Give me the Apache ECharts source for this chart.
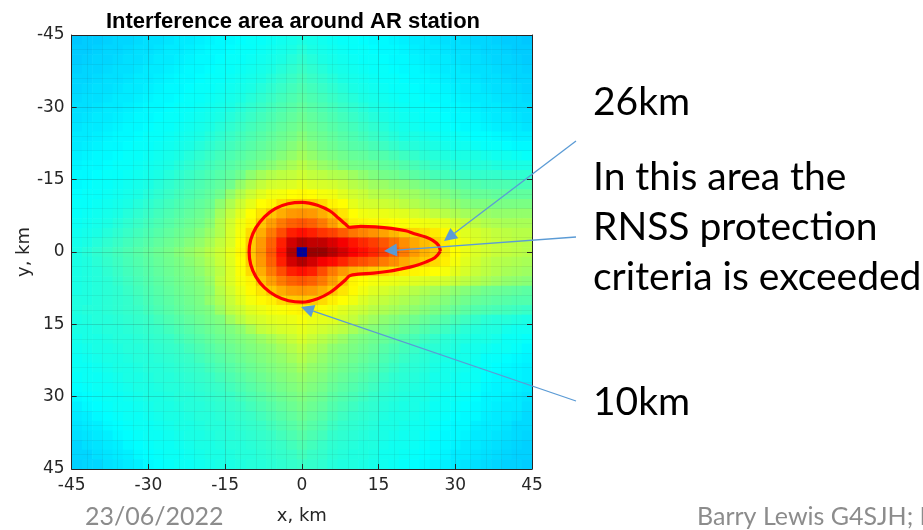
<!DOCTYPE html>
<html>
<head>
<meta charset="utf-8">
<script src="https://cdn.jsdelivr.net/npm/echarts@6/dist/echarts.min.js"></script>
<style>
  html, body { margin: 0; padding: 0; background: #ffffff; }
  #main { width: 923px; height: 530px; }
</style>
</head>
<body>
<div id="main"></div>
<script>
// ---------------- data ----------------
const chartTitle = 'Interference area around AR station';
const xTicks = [-45, -30, -15, 0, 15, 30, 45];
const yTicks = [-45, -30, -15, 0, 15, 30, 45];

// cell centres (km), 2 km cells
const xs = [-44,-42,-40,-38,-36,-34,-32,-30,-28,-26,-24,-22,-20,-18,-16,-14,-12,-10,-8,-6,-4,-2,0,2,4,6,8,10,12,14,16,18,20,22,24,26,28,30,32,34,36,38,40,42,44];
const ys = [-44,-42,-40,-38,-36,-34,-32,-30,-28,-26,-24,-22,-20,-18,-16,-14,-12,-10,-8,-6,-4,-2,0,2,4,6,8,10,12,14,16,18,20,22,24,26,28,30,32,34,36,38,40,42,44];

// relative interference level (0..100 on the colour scale), one row per y (top to bottom)
const valueRows = [
/* -44 */ [32,32.5,32.5,33,33.5,33.5,34,34.5,34.5,35,35.5,35.5,36,36.5,37,37,37.5,38,38,38.5,39,39.5, 40, 39.5,39,38.5,38,38,37.5,37,37,36.5,36,35.5,35.5,35,34.5,34.5,34,33.5,33.5,33,32.5,32.5,32],
/* -42 */ [32.5,32.5,33,33.5,33.5,34,34.5,34.5,35,35.5,35.5,36,36.5,37,37,37.5,38,38,38.5,39,39.5,40, 41, 40,39.5,39,38.5,38,38,37.5,37,37,36.5,36,35.5,35.5,35,34.5,34.5,34,33.5,33.5,33,32.5,32.5],
/* -40 */ [32.5,33,33.5,33.5,34,34.5,34.5,35,35.5,35.5,36,36.5,37,37,37.5,38,38,38.5,39,39.5,40,41, 42, 41,40,39.5,39,38.5,38,38,37.5,37,37,36.5,36,35.5,35.5,35,34.5,34.5,34,33.5,33.5,33,32.5],
/* -38 */ [33,33.5,33.5,34,34.5,34.5,35,35.5,35.5,36,36.5,37,37,37.5,38,38,38.5,39,39.5,40,41,42, 43, 42,41,40,39.5,39,38.5,38,38,37.5,37,37,36.5,36,35.5,35.5,35,34.5,34.5,34,33.5,33.5,33],
/* -36 */ [33.5,33.5,34,34.5,34.5,35,35.5,35.5,36,36.5,37,37,37.5,38,38,38.5,39,39.5,40,41,42,43, 44, 43,42,41,40,39.5,39,38.5,38,38,37.5,37,37,36.5,36,35.5,35.5,35,34.5,34.5,34,33.5,33.5],
/* -34 */ [33.5,34,34.5,34.5,35,35.5,35.5,36,36.5,37,37,37.5,38,38,38.5,39,39.5,40,41,42,43,44, 45, 44,43,42,41,40,39.5,39,38.5,38,38,37.5,37,37,36.5,36,35.5,35.5,35,34.5,34.5,34,33.5],
/* -32 */ [34,34.5,34.5,35,35.5,35.5,36,36.5,37,37,37.5,38,38,38.5,39,39.5,40,41,42,43,44,45, 46, 45,44,43,42,41,40,39.5,39,38.5,38,38,37.5,37,37,36.5,36,35.5,35.5,35,34.5,34.5,34],
/* -30 */ [34.5,34.5,35,35.5,35.5,36,36.5,37,37,37.5,38,38,38.5,39,39.5,40,41,42,43,44,45,46, 47, 46,45,44,43,42,41,40,39.5,39,38.5,38,38,37.5,37,37,36.5,36,35.5,35.5,35,34.5,34.5],
/* -28 */ [34.5,35,35.5,35.5,36,36.5,37,37,37.5,38,38,38.5,39,39.5,40,41,42,43,44,45,46,47, 48, 47,46,45,44,43,42,41,40,39.5,39,38.5,38,38,37.5,37,37,36.5,36,35.5,35.5,35,34.5],
/* -26 */ [35,35.5,35.5,36,36.5,37,37,37.5,38,38,38.5,39,39.5,40,41,42,43,44,45,46,47,48, 49, 48,47,46,45,44,43,42,41,40,39.5,39,38.5,38,38,37.5,37,37,36.5,36,35.5,35.5,35],
/* -24 */ [35.5,35.5,36,36.5,37,37,37.5,38,38,38.5,39,39.5,40,41,42,43,44,45,46,47,48,49, 50.5, 49,48,47,46,45,44,43,42,41,40,40,39.5,39,38.5,38.5,38,37.5,37.5,37,36.5,36,36],
/* -22 */ [35.5,36,36.5,37,37,37.5,38,38,38.5,39,39.5,40,41,42,43,44,45,46,47,48,49,50.5, 52, 50.5,49,48,47,46,45.5,44.5,43.5,42.5,41.5,41,40.5,40,39.5,39,39,38.5,38,38,37.5,37,37],
/* -20 */ [36,36.5,37,37,37.5,38,38,38.5,39,39.5,40,41,42,43,44,45,46,47,48,49,50.5,52, 53.5, 52,50.5,49.5,48.5,47.5,47,46,45.5,44.5,43.5,42.5,41.5,41,40.5,40,40,40,39.5,39,39,38.5,38],
/* -18 */ [36.5,37,37,37.5,38,38,38.5,39,39.5,40,41,42,43,44,45,46,47,48,49.5,51,52.5,54, 55.5, 54,52.5,51.5,50,49,48.5,48,47,46.5,45.5,44.5,43.5,42.5,42,41.5,41,41,41,40.5,40,40,40],
/* -16 */ [37,37,37.5,38,38,38.5,39,39.5,40,41,42,43,44,45,46,47,48.5,51.5,53.5,55,56,56.5, 57.5, 56.5,56,55,54.5,53,51.5,50,49,48.5,47.5,46.5,45.5,44.5,44,43.5,43,42.5,42.5,42.5,42,42,42],
/* -14 */ [37,37.5,38,38,38.5,39,39.5,40,41,42,43,44,45,46,47,48.5,52,54.5,56.5,58,58.5,59, 60, 59,58.5,58,57,55.5,54.5,53,52.5,51.5,51,50,49,48,47.5,46.5,46,45.5,45,45,45,44.5,44.5],
/* -12 */ [37.5,38,38,38.5,39,39.5,40,41,42,43,44,45,46,47,48.5,52,55,57.5,59.5,61,61.5,62.5, 63, 62.5,61.5,61,59.5,58,57,55.5,55,54.5,53.5,53,52,51,50,49,48,47.5,47.5,47,47,47,47],
/* -10 */ [38,38,38.5,39,39.5,40,41,42,43,44,45,46,47,48,51.5,54.5,57.5,60,62.5,63.5,66,67.5, 68, 67.5,66,63.5,62.5,60,58.5,58,57.5,57,56,55,54,53,52.5,51.5,50.5,50,50,49.5,49.5,49.5,49.5],
/*  -8 */ [38,38.5,39,39.5,40,41,42,43,44,45,46,47,48,49.5,53.5,56.5,59.5,62.5,65,68,70.5,72.5, 73, 72.5,70.5,68,65,62.5,61,60.5,60.5,60,59.5,58.5,57.5,56.5,55.5,54.5,53.5,53,52.5,52,52,52,52],
/*  -6 */ [38.5,39,39.5,40,41,42,43,44,45,46,47,48,49,51,55,58,61,63.5,68,72,75.5,78, 79, 78,75.5,72,68,64,63.5,63,63,62.5,62,61.5,61,60.5,60,58,57,56,55,54.5,54,54,54],
/*  -4 */ [39,39.5,40,41,42,43,44,45,46,47,48,49,50.5,52.5,55,58.5,61.5,66,70.5,75.5,80,84.5, 86, 84.5,82.5,81,78.5,76,74.5,73,71.5,69.5,67.5,66.5,65.5,64.5,63,61,59.5,58.5,57.5,56.5,56,55.5,55.5],
/*  -2 */ [39.5,40,41,42,43,44,45,46,47,48,49,50.5,52,54,56.5,59,62.5,67.5,72.5,78,84.5,92, 95, 93.5,93.5,91,88.5,85.5,83.5,81.5,79,76.5,73.5,71,69,67,64.5,62,60.5,59,58,57,56.5,56,55.5],
/*   0 */ [40,41,42,43,44,45,46,47,48,49,50.5,52,53.5,55.5,57.5,60,63,68,73,79,86,95, 3, 97.5,97.5,94.5,91.5,88,86,84,81.5,78.5,75.5,72.5,70,68,65,62.5,60.5,59,58,57,56.5,56,55.5],
/*   2 */ [40,40.5,41.5,42.5,43.5,44.5,45.5,46.5,47.5,48.5,49.5,51,52.5,54.5,57,59.5,62.5,67.5,72.5,78,84.5,92, 95, 92,88.5,86.5,84,81,79.5,78,75.5,73.5,71,69,67.5,66,64,61.5,59.5,58,56.5,55.5,55,54.5,54],
/*   4 */ [40,40.5,41,42,43,44,45,46,47,48,49,50,51.5,53.5,56,59,62,66,70.5,75.5,80,84.5, 86, 84.5,80,75.5,72.5,70,69,67.5,66.5,65,64,63.5,63,62.5,61.5,60,58.5,57,56,55,54,53.5,53],
/*   6 */ [40,40.5,41,41.5,42.5,43.5,44.5,45.5,46.5,47.5,48.5,49.5,50.5,52.5,56.5,59,61.5,63.5,68,72,75.5,78, 79, 78,75.5,72,68,63.5,62.5,61.5,61,60.5,60,59.5,59,58.5,58,57,56,55,54,53,52,51.5,51],
/*   8 */ [40,40.5,41,41.5,42,43,44,45,46,47,48,49,50,51.5,55.5,58,60.5,63,65,68,70.5,72.5, 73, 72.5,70.5,68,65,63,61,59.5,58.5,57.5,56.5,55.5,54.5,53.5,52.5,51.5,50.5,49.5,48.5,48,47.5,47,46.5],
/*  10 */ [40.5,40.5,41,41.5,42,42.5,43.5,44.5,45.5,46.5,47.5,48.5,49.5,52,54.5,57,59.5,61.5,63,64,66,67.5, 68, 67.5,66,64,62.5,61,59,57.5,56.5,55.5,54.5,53.5,52.5,51.5,50.5,49.5,48.5,47.5,47,46.5,46,45.5,45.5],
/*  12 */ [40.5,41,41,41.5,42,42.5,43,44,45,46,47,48,49,50,53,56,57.5,59.5,60.5,61.5,62,63, 63.5, 63,62,61,59.5,58,57,55.5,54.5,53.5,52.5,51.5,50.5,49.5,48.5,47.5,46.5,45.5,45,44.5,44,43.5,43],
/*  14 */ [40,40.5,41,41,41.5,42,42.5,43,44,45,46,47,48,49,50,53,55.5,57.5,58.5,59.5,60,60.5, 61.5, 60.5,60,59.5,58,56.5,54.5,53,51.5,50.5,49.5,48.5,47.5,46.5,45.5,44.5,43.5,42.5,41.5,41,41,40.5,40],
/*  16 */ [40,40,40.5,41,41,41.5,42,42.5,43,44,45,46,47,48,49,50,51.5,54,56.5,57.5,58.5,59, 60, 59,58,57,56,54,52,50.5,49.5,48.5,47.5,46.5,45.5,44.5,43.5,42.5,41.5,41,40.5,40.5,39.5,39,39],
/*  18 */ [39.5,40,40,40.5,41,41,41.5,42,42.5,43,44,45,46,47,48,49,50,51,52.5,54,55.5,57, 58.5, 57,55.5,54,52.5,50.5,49.5,48.5,47.5,46.5,45.5,44.5,43.5,42.5,41.5,41,40.5,40,40,39.5,38.5,38.5,38],
/*  20 */ [39,39.5,40,40,40.5,41,41,41.5,42,42.5,43,44,45,46,47,48,49,50,51,52,53.5,55, 56.5, 55,53.5,51.5,50.5,49.5,48.5,47.5,46,45,44,43,42,41.5,41,40.5,39.5,39.5,39,38.5,38.5,38,37],
/*  22 */ [38.5,39,39.5,40,40,40.5,41,41,41.5,42,42.5,43,44,45,46,47,48,49,50,51,52,53.5, 55, 53.5,52,50.5,49.5,48.5,47.5,46.5,45,44,43,42,41.5,40.5,40,39.5,39.5,39,38,38,37.5,37,36.5],
/*  24 */ [38.5,38.5,39,39.5,40,40,40.5,41,41,41.5,42,42.5,43,44,45,46,47,48,49,50,51,52, 53.5, 52,51,49.5,48.5,47.5,46.5,45.5,44,43,42,41.5,41,40,39.5,39.5,39,38.5,38,37.5,37,36.5,36],
/*  26 */ [38,38.5,38.5,39,39.5,40,40,40.5,41,41,41.5,42,42.5,43,44,45,46,47,48,49,50,51, 52, 51,50,48.5,47.5,46.5,45.5,44.5,43,42,41.5,41,40.5,39.5,39.5,39,38.5,38.5,37.5,37,36.5,36.5,36],
/*  28 */ [37.5,38,38.5,38.5,39,39.5,40,40,40.5,41,41,41.5,42,42.5,43,44,45,46,47,48,49,50, 51, 50,49,47.5,46.5,45.5,44.5,43.5,42,41.5,41,40.5,40,39.5,39,38.5,38.5,38,37,36.5,36.5,36,35.5],
/*  30 */ [37,37.5,38,38.5,38.5,39,39.5,40,40,40.5,41,41,41.5,42,42.5,43,44,45,46,47,48,49, 50, 49,48,46.5,45.5,44.5,43.5,42.5,41.5,41,40.5,40,40,39,38.5,38.5,38,37.5,36.5,36.5,36,35.5,35],
/*  32 */ [36,37,37.5,38,38.5,38.5,39,39.5,40,40,40.5,41,41,41.5,42,42.5,43,44,45,46,47,48, 49, 48,47,45.5,44.5,43.5,42.5,42,41,40.5,40,40,39.5,38.5,38.5,38,37.5,37,36.5,36,35.5,35.5,34.5],
/*  34 */ [35.5,36,37,37.5,38,38.5,38.5,39,39.5,40,40,40.5,41,41,41.5,42,42.5,43,44,45,46,47, 48, 47,46,44.5,43.5,42.5,42,41.5,40.5,40,40,39.5,39,38.5,38,37.5,37,37,36,35.5,35.5,35,34],
/*  36 */ [35,35.5,36,37,37.5,38,38.5,38.5,39,39.5,40,40,40.5,41,41,41.5,42,42.5,43,44,45,46, 47, 46,45,43.5,42.5,42,41.5,41,40,40,39.5,39,39,38,37.5,37,37,36,35.5,35.5,35,34,34],
/*  38 */ [34.5,35,35.5,36,37,37.5,38,38.5,38.5,39,39.5,40,40,40.5,41,41,41.5,42,42.5,43,44,45, 46, 45,44,42.5,42,41.5,41,40.5,40,39.5,39,39,38.5,37.5,37,37,36.5,35.5,35.5,35,34.5,34,33.5],
/*  40 */ [33.5,34.5,35,35.5,36,37,37.5,38,38.5,38.5,39,39.5,40,40,40.5,41,41,41.5,42,42.5,43,44, 45, 44,43,42,41.5,41,40.5,40.5,39.5,39,39,38.5,38,37,37,36.5,35.5,35.5,35,34.5,34,33.5,33],
/*  42 */ [33.5,33.5,34.5,35,35.5,36,37,37.5,38,38.5,38.5,39,39.5,40,40,40.5,41,41,41.5,42,42.5,43, 44, 43,42.5,41.5,41,40.5,40.5,40,39,39,38.5,38,37.5,37,36.5,35.5,35.5,35,34.5,34,33.5,33,33],
/*  44 */ [33,33.5,33.5,34.5,35,35.5,36,37,37.5,38,38.5,38.5,39,39.5,40,40,40.5,41,41,41.5,42,42.5, 43, 42.5,42,41,40.5,40.5,40,39.5,39,38.5,38,37.5,37,36.5,36,35.5,35,34.5,34,33.5,33,33,32.5]
];

// boundary where the RNSS protection criterion is exceeded (km)
const contourX = [27.1, 26.7, 25.6, 24.2, 22.0, 20.3, 17.5, 14.4, 11.5, 9.4, 8.5, 7.2, 5.5, 3.3, 0.1, -2.7, -5.2, -7.3, -9.0, -10.0, -10.3, -10.0, -9.0, -7.3, -5.1, -2.6, 0.1, 3.3, 5.5, 7.2, 8.5, 9.4, 11.0, 14.0, 17.0, 19.5, 22.0, 24.2, 26.0, 27.1];
const contourY = [-0.2, -1.4, -2.4, -3.1, -3.8, -4.4, -4.9, -5.2, -5.3, -5.1, -5.8, -7.0, -8.5, -9.6, -10.3, -10.0, -9.0, -7.3, -5.0, -2.5, 0.0, 2.6, 5.1, 7.4, 9.1, 10.1, 10.4, 9.6, 8.4, 7.0, 5.8, 4.9, 4.6, 4.4, 4.0, 3.5, 2.9, 2.1, 1.2, -0.2];

// slide annotations
const noteLines = ['26km', 'In this area the', 'RNSS protection', 'criteria is exceeded', '10km'];
const footerDate = '23/06/2022';
const footerAuthor = 'Barry Lewis G4SJH; I';

// ---------------- build ----------------
for (let j = 0; j < valueRows.length; j++) {
  if (valueRows[j].length !== xs.length) throw new Error('row ' + ys[j] + ' has ' + valueRows[j].length);
}
const cellW = xs[1] - xs[0];
const cellH = ys[1] - ys[0];
const cells = [];
for (let j = 0; j < ys.length; j++) {
  for (let i = 0; i < xs.length; i++) cells.push([xs[i], ys[j], valueRows[j][i]]);
}
const contour = contourX.map((x, k) => [x, contourY[k]]);

const JET = ['#00007F','#0000FF','#007FFF','#00FFFF','#7FFF7F','#FFFF00','#FF7F00','#FF0000','#7F0000'];
const TITLE_FONT = 'Liberation Sans, Arial, Helvetica, sans-serif';
const AXIS_FONT = 'DejaVu Sans, Liberation Sans, sans-serif';
const SLIDE_FONT = 'Lato, "Open Sans", sans-serif';
const AXC = '#262626';
const ARROW = '#5B9BD5';

function arrow(x1, y1, x2, y2) {
  const a = Math.atan2(y2 - y1, x2 - x1);
  const L = 13, W = 6.5;
  const bx = x2 - L * Math.cos(a), by = y2 - L * Math.sin(a);
  const px = -Math.sin(a) * W, py = Math.cos(a) * W;
  return [
    { type: 'line', z: 100, shape: { x1: x1, y1: y1, x2: bx, y2: by }, style: { stroke: ARROW, lineWidth: 1.3 } },
    { type: 'polygon', z: 100, shape: { points: [[x2, y2], [bx + px, by + py], [bx - px, by - py]] }, style: { fill: ARROW } }
  ];
}

const chart = echarts.init(document.getElementById('main'), null, { renderer: 'canvas' });

const baseAxis = {
  type: 'value', min: -45, max: 45, interval: 15, z: 10,
  axisLine: { show: true, onZero: false, lineStyle: { color: AXC, width: 1 } },
  axisTick: { show: true, inside: true, length: 5, lineStyle: { color: AXC } },
  minorTick: { show: false, splitNumber: 5 }
};

const option = {
  backgroundColor: '#ffffff',
  animation: false,
  title: {
    text: chartTitle, left: 288, top: 6, textAlign: 'center',
    textStyle: { fontFamily: TITLE_FONT, fontWeight: 'bold', fontSize: 22, color: '#000' }
  },
  grid: { left: 70, right: 391, top: 35, bottom: 60, containLabel: false },
  xAxis: [
    Object.assign({}, baseAxis, {
      position: 'bottom',
      axisLabel: { fontFamily: AXIS_FONT, fontSize: 17, color: AXC, margin: 8 },
      splitLine: { show: true, lineStyle: { color: 'rgba(38,38,38,0.18)', width: 1 } },
      minorSplitLine: { show: true, lineStyle: { color: 'rgba(38,38,38,0.07)', width: 1 } },
      name: 'x, km', nameLocation: 'middle', nameGap: 38,
      nameTextStyle: { fontFamily: AXIS_FONT, fontSize: 18, color: AXC }
    }),
    Object.assign({}, baseAxis, {
      position: 'top', axisLabel: { show: false }, splitLine: { show: false }
    })
  ],
  yAxis: [
    Object.assign({}, baseAxis, {
      position: 'left', inverse: true,
      axisLabel: { fontFamily: AXIS_FONT, fontSize: 17, color: AXC, margin: 7 },
      splitLine: { show: true, lineStyle: { color: 'rgba(38,38,38,0.18)', width: 1 } },
      minorSplitLine: { show: true, lineStyle: { color: 'rgba(38,38,38,0.07)', width: 1 } },
      name: 'y, km', nameLocation: 'middle', nameGap: 36, nameRotate: 90,
      nameTextStyle: { fontFamily: AXIS_FONT, fontSize: 18, color: AXC }
    }),
    Object.assign({}, baseAxis, {
      position: 'right', inverse: true, axisLabel: { show: false }, splitLine: { show: false }
    })
  ],
  visualMap: {
    show: false, type: 'continuous', min: 0, max: 100, dimension: 2, seriesIndex: 0,
    inRange: { color: JET }
  },
  series: [
    {
      type: 'custom', name: 'level', z: 1, clip: true,
      xAxisIndex: 0, yAxisIndex: 0,
      encode: { x: 0, y: 1 },
      data: cells,
      renderItem: function (params, api) {
        const x = api.value(0), y = api.value(1);
        const p0 = api.coord([x - cellW / 2, y - cellH / 2]);
        const p1 = api.coord([x + cellW / 2, y + cellH / 2]);
        return {
          type: 'rect',
          shape: {
            x: Math.min(p0[0], p1[0]), y: Math.min(p0[1], p1[1]),
            width: Math.abs(p1[0] - p0[0]) + 0.6, height: Math.abs(p1[1] - p0[1]) + 0.6
          },
          style: { fill: api.visual('color'), stroke: null }
        };
      }
    },
    {
      type: 'line', name: 'threshold', z: 5,
      xAxisIndex: 0, yAxisIndex: 0,
      data: contour, smooth: 0.35, showSymbol: false, symbol: 'none',
      lineStyle: { color: '#ff0000', width: 3.2 }
    }
  ],
  graphic: [].concat(
    [
      { type: 'text', left: 593, top: 83, z: 100, style: { text: noteLines[0], font: '39px ' + SLIDE_FONT, fill: '#000' } },
      { type: 'text', left: 593, top: 158, z: 100, style: { text: noteLines[1], font: '39px ' + SLIDE_FONT, fill: '#000' } },
      { type: 'text', left: 593, top: 208, z: 100, style: { text: noteLines[2], font: '39px ' + SLIDE_FONT, fill: '#000' } },
      { type: 'text', left: 593, top: 258, z: 100, style: { text: noteLines[3], font: '39px ' + SLIDE_FONT, fill: '#000' } },
      { type: 'text', left: 593, top: 383, z: 100, style: { text: noteLines[4], font: '39px ' + SLIDE_FONT, fill: '#000' } },
      { type: 'text', left: 85, top: 504, z: 100, style: { text: footerDate, font: '25px ' + SLIDE_FONT, fill: '#8c8c8c' } },
      { type: 'text', left: 697, top: 504, z: 100, style: { text: footerAuthor, font: '25px ' + SLIDE_FONT, fill: '#8c8c8c' } }
    ],
    arrow(576, 141, 444, 241),
    arrow(576, 237, 384, 251),
    arrow(576, 401, 301, 307)
  )
};

chart.setOption(option);
</script>
</body>
</html>
